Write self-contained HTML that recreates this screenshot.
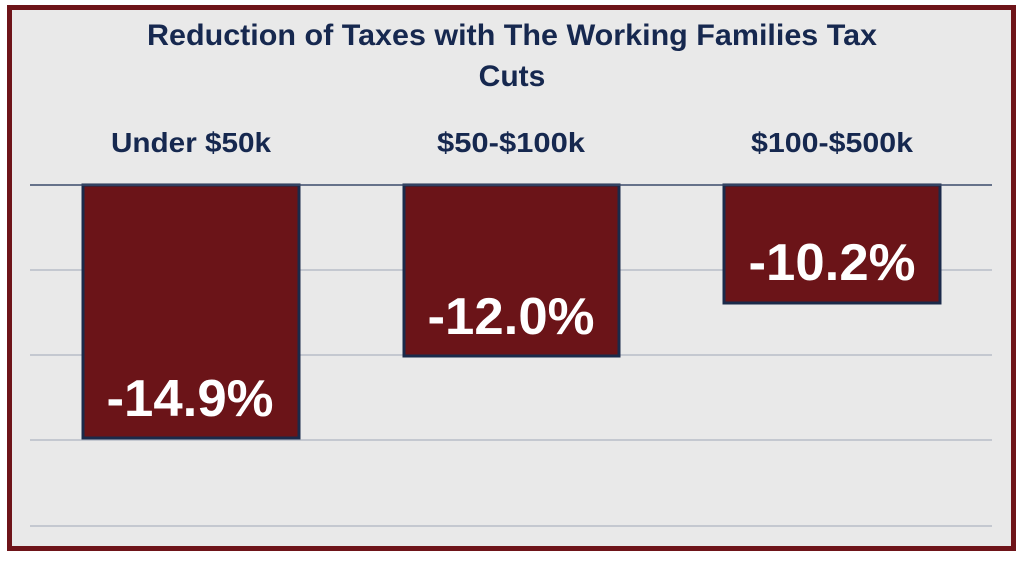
<!DOCTYPE html>
<html><head><style>
body{margin:0;width:1024px;height:556px;background:#fff;overflow:hidden;font-family:"Liberation Sans",sans-serif}
</style></head><body>
<svg width="1024" height="556" xmlns="http://www.w3.org/2000/svg">
<rect x="9.5" y="7.5" width="1004" height="541" fill="#e9e9e9" stroke="#6e1419" stroke-width="5"/>
<g stroke="#b8bec8" stroke-width="1.5">
<line x1="30" y1="270" x2="992" y2="270"/>
<line x1="30" y1="355" x2="992" y2="355"/>
<line x1="30" y1="440" x2="992" y2="440"/>
<line x1="30" y1="526" x2="992" y2="526"/>
</g>
<g fill="#6b1418" stroke="#1b2a4a" stroke-width="3">
<rect x="83" y="185" width="216" height="253"/>
<rect x="404" y="185" width="215" height="171"/>
<rect x="724" y="185" width="216" height="118"/>
</g>
<line x1="30" y1="185" x2="992" y2="185" stroke="#3a4a6a" stroke-width="1.5"/>
<g font-family="Liberation Sans, sans-serif" font-weight="bold" fill="#16284f" text-anchor="middle">
<text x="512" y="45" font-size="30" textLength="730" lengthAdjust="spacingAndGlyphs">Reduction of Taxes with The Working Families Tax</text>
<text x="512" y="86" font-size="30">Cuts</text>
<text x="191" y="152" font-size="28" textLength="160" lengthAdjust="spacingAndGlyphs">Under $50k</text>
<text x="511" y="152" font-size="28" textLength="148" lengthAdjust="spacingAndGlyphs">$50-$100k</text>
<text x="832" y="152" font-size="28" textLength="162" lengthAdjust="spacingAndGlyphs">$100-$500k</text>
</g>
<g font-family="Liberation Sans, sans-serif" font-weight="bold" fill="#ffffff" text-anchor="middle" font-size="52">
<text x="190" y="416" textLength="167" lengthAdjust="spacingAndGlyphs">-14.9%</text>
<text x="511" y="334" textLength="167" lengthAdjust="spacingAndGlyphs">-12.0%</text>
<text x="832" y="280" textLength="167" lengthAdjust="spacingAndGlyphs">-10.2%</text>
</g>
</svg>
</body></html>
